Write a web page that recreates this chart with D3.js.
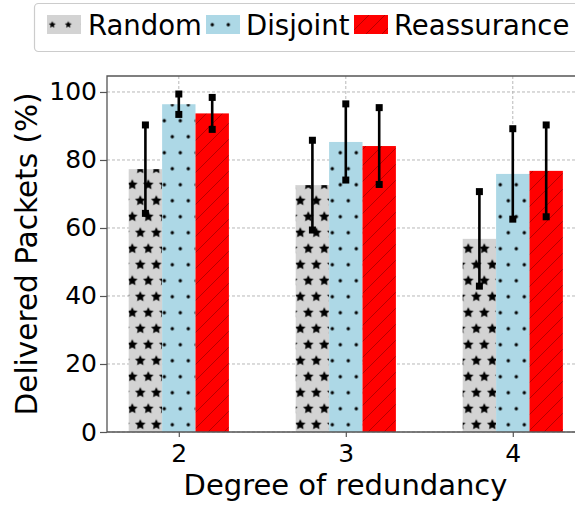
<!DOCTYPE html>
<html><head><meta charset="utf-8">
<script src="https://cdn.jsdelivr.net/npm/d3@7"></script>
<style>body{margin:0;background:#fff}svg{display:block;font-family:"DejaVu Sans",sans-serif}</style>
</head><body><svg id="c" width="575" height="507"></svg>
<script>
const categories = [2, 3, 4];
const seriesNames = ["Random", "Disjoint", "Reassurance"];
const randomVals = [77.3, 72.6, 56.8];
const randomErr = [13.0, 13.2, 13.9];
const disjointVals = [96.4, 85.3, 75.9];
const disjointErr = [3.0, 11.2, 13.3];
const reassuranceVals = [93.7, 84.1, 76.8];
const reassuranceErr = [4.7, 11.3, 13.5];
const yTicks = [0, 20, 40, 60, 80, 100];

const series = [
  {name: seriesNames[0], vals: randomVals, err: randomErr, fill: "url(#pStar)", lfill: "url(#pStarL)", off: -0.2},
  {name: seriesNames[1], vals: disjointVals, err: disjointErr, fill: "url(#pDot)", lfill: "url(#pDot)", off: 0},
  {name: seriesNames[2], vals: reassuranceVals, err: reassuranceErr, fill: "url(#pHatch)", lfill: "url(#pHatch)", off: 0.2}
];

const svg = d3.select("#c");
const L = 107, R = 584.6, T = 76, B = 432;
const x = d3.scaleLinear().domain([1.57, 4.43]).range([L, R]);
const y = d3.scaleLinear().domain([0, 104.7]).range([B, T]);
const bw = x(0.2) - x(0);

// patterns
const defs = svg.append("defs");
function starPath(cx, cy, ro, ri) {
  const pts = [];
  for (let i = 0; i < 10; i++) {
    const r = i % 2 === 0 ? ro : ri;
    const a = -Math.PI / 2 + i * Math.PI / 5;
    pts.push([cx + r * Math.cos(a), cy + r * Math.sin(a)]);
  }
  return "M" + pts.map(p => p.join(",")).join("L") + "Z";
}
function starPattern(id, ro) {
  const p = defs.append("pattern").attr("id", id).attr("patternUnits", "userSpaceOnUse")
    .attr("x", -3.7).attr("y", 0.7).attr("width", 16).attr("height", 32);
  p.append("rect").attr("width", 16).attr("height", 32).attr("fill", "#d3d3d3");
  [[0, 8], [16, 8], [8, 24], [-16, 8], [0, -8], [16, 40]].forEach(([cx, cy]) =>
    p.append("path").attr("d", starPath(cx, cy, ro, ro * 0.48)).attr("fill", "#000"));
}
starPattern("pStar", 5.6);
starPattern("pStarL", 3.6);
{
  const p = defs.append("pattern").attr("id", "pDot").attr("patternUnits", "userSpaceOnUse")
    .attr("x", -3.7).attr("y", 0.7).attr("width", 16).attr("height", 32);
  p.append("rect").attr("width", 16).attr("height", 32).attr("fill", "#add8e6");
  [[0, 8], [16, 8], [8, 24]].forEach(([cx, cy]) =>
    p.append("circle").attr("cx", cx).attr("cy", cy).attr("r", 1.7).attr("fill", "#000"));
}
{
  const s = 16;
  const p = defs.append("pattern").attr("id", "pHatch").attr("patternUnits", "userSpaceOnUse")
    .attr("width", s).attr("height", s);
  p.append("rect").attr("width", s).attr("height", s).attr("fill", "#ff0000");
  p.append("path").attr("d", `M0,${s}L${s},0M${-s/2},${s/2}L${s/2},${-s/2}M${s/2},${s*1.5}L${s*1.5},${s/2}`)
    .attr("stroke", "#b00000").attr("stroke-width", 0.9).attr("fill", "none");
}

// grid
const grid = svg.append("g").attr("stroke", "#b0b0b0").attr("stroke-width", 0.9).attr("stroke-dasharray", "3,2");
yTicks.forEach(t => grid.append("line").attr("x1", L).attr("x2", R).attr("y1", y(t)).attr("y2", y(t)));
categories.forEach(c => grid.append("line").attr("x1", x(c)).attr("x2", x(c)).attr("y1", T).attr("y2", B));

// bars
series.forEach(s => {
  svg.append("g").selectAll("rect").data(categories).join("rect")
    .attr("x", (c) => x(c + s.off) - bw / 2)
    .attr("width", bw)
    .attr("y", (c, i) => y(s.vals[i]))
    .attr("height", (c, i) => B - y(s.vals[i]))
    .attr("fill", s.fill);
});

// error bars
series.forEach(s => {
  const g = svg.append("g");
  categories.forEach((c, i) => {
    const cx = x(c + s.off);
    const y1 = y(s.vals[i] + s.err[i]), y2 = y(s.vals[i] - s.err[i]);
    g.append("line").attr("x1", cx).attr("x2", cx).attr("y1", y1).attr("y2", y2)
      .attr("stroke", "#000").attr("stroke-width", 2.6);
    [y1, y2].forEach(yy => g.append("rect").attr("x", cx - 3.5).attr("y", yy - 3.5)
      .attr("width", 7).attr("height", 7).attr("fill", "#000"));
  });
});

// spines
const sp = svg.append("g").attr("stroke", "#555").attr("stroke-width", 1.3).attr("fill", "none");
sp.append("path").attr("d", `M${L},${T}L${L},${B}L${R},${B}L${R},${T}Z`);

// y axis
const ya = svg.append("g").attr("transform", `translate(${L},0)`)
  .call(d3.axisLeft(y).tickValues(yTicks).tickSize(7).tickPadding(3).tickFormat(d3.format("d")));
ya.select(".domain").remove();
ya.selectAll(".tick line").attr("stroke", "#555").attr("stroke-width", 1.2);
ya.selectAll(".tick text").attr("font-size", 25).attr("fill", "#000").attr("font-family", "DejaVu Sans");

// x axis
const xa = svg.append("g").attr("transform", `translate(0,${B})`)
  .call(d3.axisBottom(x).tickValues(categories).tickSize(5).tickPadding(7).tickFormat(d3.format("d")));
xa.select(".domain").remove();
xa.selectAll(".tick line").attr("stroke", "#555").attr("stroke-width", 1.2);
xa.selectAll(".tick text").attr("font-size", 25).attr("fill", "#000").attr("font-family", "DejaVu Sans");

// axis labels
svg.append("text").attr("x", 345.5).attr("y", 495).attr("text-anchor", "middle")
  .attr("font-size", 29).attr("fill", "#000").text("Degree of redundancy");
svg.append("text").attr("transform", `translate(37,${(T + B) / 2}) rotate(-90)`).attr("text-anchor", "middle")
  .attr("font-size", 29.5).attr("fill", "#000").text("Delivered Packets (%)");

// legend
const lg = svg.append("g");
lg.append("rect").attr("x", 34.5).attr("y", 3.5).attr("width", 600).attr("height", 48).attr("rx", 4)
  .attr("fill", "#fff").attr("fill-opacity", 0.8).attr("stroke", "#cccccc").attr("stroke-width", 1.2);
const hx = [47, 206, 354], tx = [88, 246, 394];
series.forEach((s, i) => {
  lg.append("rect").attr("x", hx[i]).attr("y", 15).attr("width", 34).attr("height", 19).attr("fill", s.lfill);
  lg.append("text").attr("x", tx[i]).attr("y", 34.5).attr("font-size", 27.5).attr("fill", "#000").text(s.name);
});
</script></body></html>
